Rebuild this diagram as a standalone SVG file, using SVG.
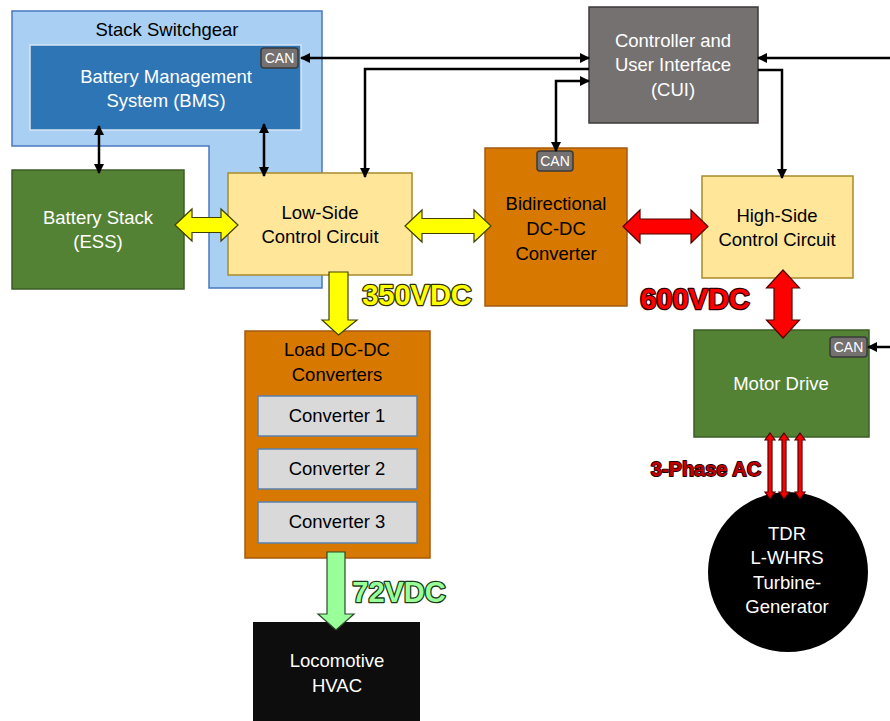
<svg xmlns="http://www.w3.org/2000/svg" width="890" height="721" viewBox="0 0 890 721">
<style>
text{font-family:"Liberation Sans",Arial,sans-serif;text-anchor:middle}
.t{font-size:18.5px;fill:#000}
.w{font-size:18.5px;fill:#fff}
.can rect{fill:#767171;stroke:#3a3a3a;stroke-width:1.5}
.can text{font-size:14px;fill:#fff}
.ln{fill:none;stroke:#000;stroke-width:2.5}
.big{font-weight:bold;font-size:29px;paint-order:stroke;stroke-width:2.6;stroke-linejoin:round}
.ya{fill:#ffff00;stroke:#404000;stroke-width:1.2}
.ra{fill:#ff0000;stroke:#500000;stroke-width:1.2}
.ga{fill:#99ff99;stroke:#2a4a2a;stroke-width:1.2}
</style>
<defs>
<marker id="ah" viewBox="0 0 10 10" refX="9" refY="5" markerWidth="10" markerHeight="10" markerUnits="userSpaceOnUse" orient="auto-start-reverse"><path d="M0,0 L10,5 L0,10 z" fill="#000"/></marker>
</defs>

<g id="switchgear">
<polygon points="12,11 322,11 322,288 209,288 209,146 12,146" fill="#a9cff3" stroke="#4a78c0" stroke-width="1.5"/>
<text class="t" x="167" y="36">Stack Switchgear</text>
</g>

<g id="bms">
<rect x="30" y="45" width="271" height="85" fill="#2e75b6" stroke="#d6e6f5" stroke-width="1.5"/>
<text class="w" x="166" y="83">Battery Management</text>
<text class="w" x="166" y="107">System (BMS)</text>
<g class="can"><rect x="261" y="48" width="37" height="20" rx="3"/><text x="279.5" y="63">CAN</text></g>
</g>

<g id="battery">
<rect x="12" y="170" width="172" height="119" fill="#548235" stroke="#3b5e25" stroke-width="1.5"/>
<text class="w" x="98" y="224">Battery Stack</text>
<text class="w" x="98" y="248">(ESS)</text>
</g>

<g id="lowside">
<rect x="228" y="173" width="184" height="102" fill="#ffe699" stroke="#a88a2a" stroke-width="1.5"/>
<text class="t" x="320" y="219">Low-Side</text>
<text class="t" x="320" y="243">Control Circuit</text>
</g>

<g id="bidir">
<rect x="485" y="148" width="142" height="158" fill="#d77800" stroke="#a55a10" stroke-width="1.5"/>
<g class="can"><rect x="537" y="151" width="36" height="20" rx="3"/><text x="555" y="166">CAN</text></g>
<text class="t" x="556" y="210">Bidirectional</text>
<text class="t" x="556" y="235">DC-DC</text>
<text class="t" x="556" y="260">Converter</text>
</g>

<g id="cui">
<rect x="589" y="7" width="169" height="116" fill="#767171" stroke="#3b3838" stroke-width="1.5"/>
<text class="w" x="673" y="47">Controller and</text>
<text class="w" x="673" y="71">User Interface</text>
<text class="w" x="673" y="96">(CUI)</text>
</g>

<g id="highside">
<rect x="702" y="176" width="151" height="102" fill="#ffe699" stroke="#a88a2a" stroke-width="1.5"/>
<text class="t" x="777" y="222">High-Side</text>
<text class="t" x="777" y="246">Control Circuit</text>
</g>

<g id="motor">
<rect x="694" y="330" width="175" height="107" fill="#548235" stroke="#3b5e25" stroke-width="1.5"/>
<g class="can"><rect x="830" y="337" width="37" height="20" rx="3"/><text x="848.5" y="352">CAN</text></g>
<text class="w" x="781" y="390">Motor Drive</text>
</g>

<g id="load">
<rect x="245" y="331" width="185" height="227" fill="#d77800" stroke="#a55a10" stroke-width="1.5"/>
<text class="t" x="337" y="356">Load DC-DC</text>
<text class="t" x="337" y="381">Converters</text>
<rect x="258" y="396" width="159" height="40" fill="#d9d9d9" stroke="#5b80aa" stroke-width="1.5"/>
<text class="t" x="337" y="422">Converter 1</text>
<rect x="258" y="449" width="159" height="40" fill="#d9d9d9" stroke="#5b80aa" stroke-width="1.5"/>
<text class="t" x="337" y="475">Converter 2</text>
<rect x="258" y="502" width="159" height="41" fill="#d9d9d9" stroke="#5b80aa" stroke-width="1.5"/>
<text class="t" x="337" y="528">Converter 3</text>
</g>

<g id="hvac">
<rect x="253" y="622" width="167" height="101" fill="#0d0d0d"/>
<text class="w" x="337" y="667">Locomotive</text>
<text class="w" x="337" y="692">HVAC</text>
</g>

<g id="turbine">
<circle cx="788" cy="572" r="80" fill="#000"/>
<text class="w" x="787" y="540">TDR</text>
<text class="w" x="787" y="564">L-WHRS</text>
<text class="w" x="787" y="589">Turbine-</text>
<text class="w" x="787" y="613">Generator</text>
</g>

<g id="connectors">
<path class="ln" d="M301,58 H589" marker-start="url(#ah)" marker-end="url(#ah)"/>
<path class="ln" d="M589,69 H365 V177" marker-end="url(#ah)"/>
<path class="ln" d="M589,81 H556 V151" marker-start="url(#ah)" marker-end="url(#ah)"/>
<path class="ln" d="M890,58 H758" marker-end="url(#ah)"/>
<path class="ln" d="M758,70 H782 V178" marker-end="url(#ah)"/>
<path class="ln" d="M99,126 V173" marker-start="url(#ah)" marker-end="url(#ah)"/>
<path class="ln" d="M264,124 V176" marker-start="url(#ah)" marker-end="url(#ah)"/>
<path class="ln" d="M890,347 H868" marker-end="url(#ah)"/>

<polygon class="ya" points="175,225 192,209 192,217.5 221,217.5 221,209 238,225 221,241 221,232.5 192,232.5 192,241"/>
<polygon class="ya" points="405,226 422,210 422,218.5 474,218.5 474,210 491,226 474,242 474,233.5 422,233.5 422,242"/>
<polygon class="ra" points="623,226.5 640,210 640,219 691,219 691,210 708,226.5 691,243 691,234 640,234 640,243"/>
<polygon class="ra" points="783,270 799.5,288 792,288 792,320 799.5,320 783,338 766.5,320 774,320 774,288 766.5,288"/>
<polygon class="ya" points="329,272 348,272 348,320 357,320 338.5,335 322,320 329,320"/>
<polygon class="ga" points="327,552 345,552 345,614 354,614 336,630 318,614 327,614"/>

<polygon class="ra" points="770,433 775,440 772,440 772,492 775,492 770,499 765,492 768,492 768,440 765,440"/>
<polygon class="ra" points="784,433 789,440 786,440 786,492 789,492 784,499 779,492 782,492 782,440 779,440"/>
<polygon class="ra" points="800,433 805,440 802,440 802,492 805,492 800,499 795,492 798,492 798,440 795,440"/>
</g>

<g id="labels">
<text class="big" x="417" y="305" fill="#ffff00" stroke="#303000">350VDC</text>
<text class="big" x="695" y="309" fill="#ff0000" stroke="#300000">600VDC</text>
<text class="big" x="399" y="602" fill="#99ff99" stroke="#1a3a1a">72VDC</text>
<text x="706" y="476" font-weight="bold" font-size="20" fill="#c00000" stroke="#200000" stroke-width="1.8" paint-order="stroke" stroke-linejoin="round">3-Phase AC</text>
</g>
</svg>
